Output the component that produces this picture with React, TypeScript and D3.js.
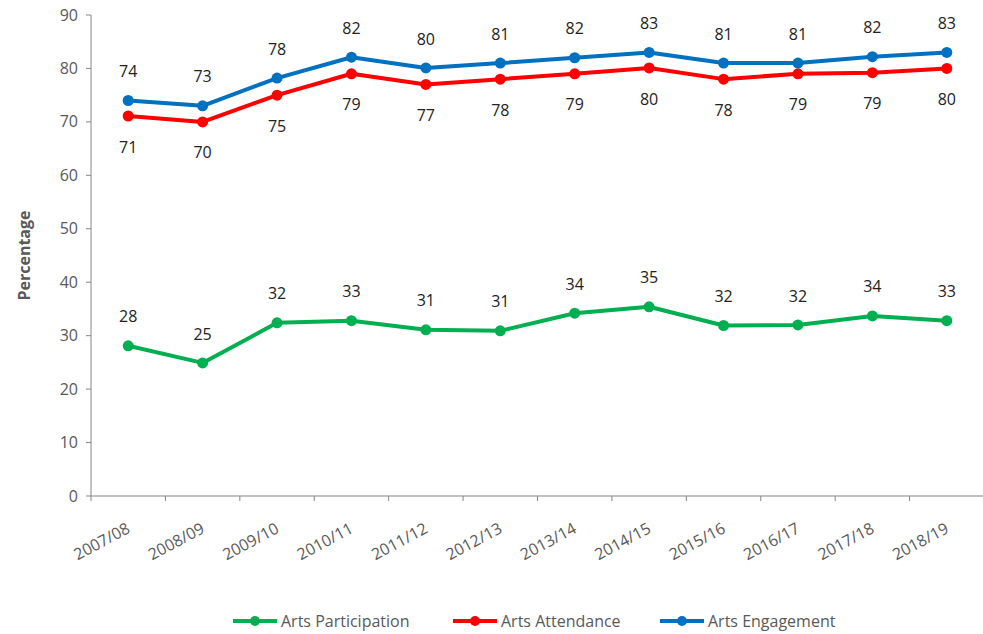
import React from "react";
import * as d3 from "d3";

const categories = ["2007/08","2008/09","2009/10","2010/11","2011/12","2012/13","2013/14","2014/15","2015/16","2016/17","2017/18","2018/19"];
const participation = [28.1, 24.9, 32.4, 32.8, 31.1, 30.9, 34.2, 35.4, 31.9, 32.0, 33.7, 32.8];
const attendance = [71.1, 70.0, 75.0, 79.0, 77.0, 78.0, 79.0, 80.1, 78.0, 79.0, 79.2, 80.0];
const engagement = [74.0, 73.0, 78.2, 82.1, 80.1, 81.0, 82.0, 83.0, 81.0, 81.0, 82.2, 83.0];
const yTicks = [0, 10, 20, 30, 40, 50, 60, 70, 80, 90];

const seriesList = [
  { name: "Arts Participation", values: participation, color: "#00B050", labelPos: "above" },
  { name: "Arts Attendance", values: attendance, color: "#FF0000", labelPos: "below" },
  { name: "Arts Engagement", values: engagement, color: "#0070C0", labelPos: "above" },
];
const legendX = [233, 453, 660];

export default function App() {
  const W = 983, H = 634;
  const left = 91, right = 984, top = 15, bottom = 496;
  const x = d3.scaleBand<string>().domain(categories).range([left, right]);
  const y = d3.scaleLinear().domain([0, 90]).range([bottom, top]);
  const cx = (c: string) => (x(c) as number) + x.bandwidth() / 2;
  const line = d3.line<number>().x((_, i) => cx(categories[i])).y((v) => y(v));
  const font = "'Open Sans', 'Noto Sans', sans-serif";
  const axisColor = "#868686";
  const textColor = "#595959";
  return (
    <svg width={W} height={H} style={{ position: "absolute", left: 0, top: 0, background: "#fff" }} fontFamily={font}>
      {/* y axis */}
      <line x1={left} x2={left} y1={top} y2={bottom} stroke={axisColor} strokeWidth={1} />
      {yTicks.map((t) => (
        <g key={t}>
          <line x1={left - 5} x2={left} y1={y(t)} y2={y(t)} stroke={axisColor} />
          <text x={left - 13} y={y(t)} dy="0.35em" textAnchor="end" fontSize={16} fill={textColor}>{t}</text>
        </g>
      ))}
      {/* x axis */}
      <line x1={left} x2={right} y1={bottom} y2={bottom} stroke={axisColor} />
      {categories.map((c, i) => (
        <line key={"t" + c} x1={x(c) as number} x2={x(c) as number} y1={bottom} y2={bottom + 5} stroke={axisColor} />
      ))}
      {categories.map((c) => (
        <text key={"l" + c} transform={`translate(${cx(c) + 3},${bottom + 36}) rotate(-28)`} textAnchor="end" fontSize={16} fill={textColor}>{c}</text>
      ))}
      <text transform={`translate(30,${(top + bottom) / 2}) rotate(-90)`} textAnchor="middle" fontSize={16} fontWeight="bold" fill={textColor}>Percentage</text>
      {seriesList.map((s) => (
        <g key={s.name}>
          <path d={line(s.values) || ""} fill="none" stroke={s.color} strokeWidth={4} strokeLinejoin="round" />
          {s.values.map((v, i) => (
            <circle key={i} cx={cx(categories[i])} cy={y(v)} r={5.5} fill={s.color} />
          ))}
          {s.values.map((v, i) => (
            <text key={"d" + i} x={cx(categories[i])} y={y(v) + (s.labelPos === "above" ? -29 : 31)} dy="0.35em" textAnchor="middle" fontSize={16} fill="#222">{Math.round(v)}</text>
          ))}
        </g>
      ))}
      {/* legend */}
      {seriesList.map((s, i) => (
        <g key={"lg" + s.name}>
          <line x1={legendX[i]} x2={legendX[i] + 44} y1={621} y2={621} stroke={s.color} strokeWidth={4} />
          <circle cx={legendX[i] + 22} cy={621} r={5} fill={s.color} />
          <text x={legendX[i] + 48} y={621} dy="0.35em" fontSize={16} fill={textColor}>{s.name}</text>
        </g>
      ))}
    </svg>
  );
}
